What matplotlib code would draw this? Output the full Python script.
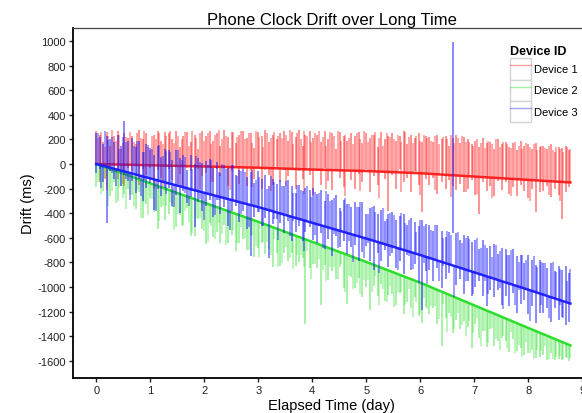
import matplotlib.pyplot as plt
from matplotlib.lines import Line2D
from matplotlib.patches import Rectangle

plt.rcParams['font.family'] = ['Liberation Sans', 'DejaVu Sans']
plt.rcParams['axes.unicode_minus'] = False

# sample times (day) of the outlier readings, first batch
days = [0.00, 0.06, 0.13, 0.19, 0.26, 0.33, 0.40, 0.46, 0.52, 0.59,
        0.66, 0.73, 0.80, 0.86, 0.93, 1.00, 1.07, 1.14, 1.20, 1.27,
        1.34, 1.41, 1.48, 1.55, 1.61, 1.68, 1.75, 1.82, 1.89, 1.96,
        2.03, 2.10, 2.17, 2.24, 2.30, 2.37, 2.44, 2.51, 2.58, 2.65,
        2.72, 2.79, 2.86, 2.92, 2.99, 3.06, 3.13, 3.20, 3.27, 3.34,
        3.41, 3.48, 3.55, 3.62, 3.69, 3.76, 3.83, 3.87, 3.95, 4.02,
        4.09, 4.16, 4.23, 4.30, 4.37, 4.44, 4.51, 4.58, 4.65, 4.72,
        4.79, 4.86, 4.93, 5.00, 5.07, 5.14, 5.21, 5.28, 5.35, 5.41,
        5.48, 5.55, 5.62, 5.69, 5.76, 5.83, 5.90, 5.97, 6.03, 6.10,
        6.17, 6.24, 6.31, 6.40, 6.47, 6.54, 6.60, 6.67, 6.74, 6.81,
        6.88, 6.95, 7.02, 7.09, 7.16, 7.23, 7.30, 7.37, 7.44, 7.51,
        7.58, 7.65, 7.72, 7.79, 7.86, 7.93, 8.00, 8.07, 8.14, 8.21,
        8.28, 8.35, 8.42, 8.49, 8.56, 8.62, 8.69, 8.75]
# second batch, in between
days_b = [0.03, 0.09, 0.16, 0.22, 0.29, 0.36, 0.43, 0.49, 0.55, 0.62,
          0.69, 0.76, 0.83, 0.89, 0.96, 1.03, 1.10, 1.17, 1.23, 1.30,
          1.37, 1.44, 1.51, 1.58, 1.64, 1.71, 1.78, 1.85, 1.92, 1.99,
          2.06, 2.13, 2.20, 2.27, 2.33, 2.40, 2.47, 2.54, 2.61, 2.68,
          2.75, 2.82, 2.89, 2.95, 3.02, 3.09, 3.16, 3.23, 3.30, 3.37,
          3.44, 3.51, 3.58, 3.65, 3.72, 3.79, 3.85, 3.91, 3.98, 4.05,
          4.12, 4.19, 4.26, 4.33, 4.40, 4.47, 4.54, 4.61, 4.68, 4.75,
          4.82, 4.89, 4.96, 5.03, 5.10, 5.17, 5.24, 5.31, 5.38, 5.44,
          5.51, 5.58, 5.65, 5.72, 5.79, 5.86, 5.93, 6.00, 6.06, 6.13,
          6.20, 6.27, 6.35, 6.43, 6.50, 6.57, 6.63, 6.70, 6.77, 6.84,
          6.91, 6.98, 7.05, 7.12, 7.19, 7.26, 7.33, 7.40, 7.47, 7.54,
          7.61, 7.68, 7.75, 7.82, 7.89, 7.96, 8.03, 8.10, 8.17, 8.24,
          8.31, 8.38, 8.45, 8.52, 8.59, 8.65, 8.72, 8.78]

# Device 1 (red)
dev1_hi = [270, 240, 180, 260, 150, 230, 270, 120, 250, 210,
           230, 160, 280, 200, 250, 110, 240, 270, 190, 260,
           250, 200, 270, 140, 230, 260, 180, 240, 120, 270,
           230, 270, 190, 250, 150, 280, 220, 260, 170, 240,
           270, 210, 250, 130, 260, 230, 280, 180, 240, 200,
           250, 270, 190, 260, 220, 280, 150, 240, 270, 210,
           240, 180, 270, 200, 250, 120, 260, 230, 190, 250,
           230, 260, 170, 250, 210, 240, 140, 260, 200, 230,
           250, 190, 230, 270, 160, 240, 210, 250, 180, 230,
           220, 180, 240, 200, 230, 150, 210, 240, 170, 220,
           200, 160, 190, 140, 210, 170, 180, 120, 200, 160,
           180, 140, 170, 110, 190, 150, 160, 120, 170, 140,
           150, 120, 160, 100, 140, 130, 150, 110]
dev1_lo = [-20, -150, -30, -210, -60, -20, -120, -40, -180, -30,
           -60, -20, -170, -40, -90, -30, -200, -50, -110, -20,
           -40, -130, -20, -80, -190, -30, -60, -230, -40, -100,
           -70, -30, -150, -40, -100, -25, -180, -60, -35, -160,
           -40, -180, -60, -120, -30, -200, -50, -90, -170, -40,
           -150, -50, -100, -30, -200, -60, -120, -40, -90, -250,
           -60, -170, -30, -140, -210, -50, -110, -190, -40, -130,
           -200, -80, -150, -40, -230, -100, -170, -60, -120, -380,
           -90, -200, -40, -150, -110, -230, -60, -170, -390, -120,
           -170, -110, -240, -150, -200, -130, -180, -210, -160, -230,
           -200, -130, -250, -410, -150, -220, -180, -260, -140, -210,
           -150, -240, -190, -260, -170, -220, -280, -200, -390, -230,
           -220, -180, -270, -200, -250, -450, -230, -190]
dev1_hi_b = [210, 260, 140, 230, 280, 190, 240, 170, 220, 260,
             180, 250, 210, 270, 140, 230, 200, 250, 160, 230,
             270, 170, 230, 200, 260, 150, 270, 210, 250, 190,
             250, 160, 240, 280, 200, 230, 130, 260, 220, 270,
             200, 250, 170, 270, 220, 140, 250, 210, 260, 230,
             210, 240, 280, 160, 250, 200, 270, 230, 180, 250,
             270, 220, 150, 260, 230, 270, 190, 240, 210, 160,
             250, 200, 270, 180, 240, 260, 210, 150, 250, 220,
             200, 240, 180, 260, 220, 170, 230, 190, 240, 210,
             190, 230, 160, 220, 200, 240, 170, 210, 230, 180,
             180, 150, 200, 170, 130, 190, 160, 200, 140, 180,
             160, 130, 180, 150, 120, 170, 140, 160, 110, 150,
             130, 150, 110, 140, 120, 100, 140, 120]
dev1_lo_b = [0, -1, -120, -2, -3, -4, -4, -160, -6, -6,
             -7, -8, -8, -140, -10, -10, -11, -12, -190, -13,
             -14, -14, -160, -16, -16, -17, -18, -19, -200, -20,
             -21, -150, -22, -23, -23, -24, -210, -25, -26, -27,
             -28, -28, -190, -30, -30, -31, -32, -220, -34, -35,
             -36, -180, -38, -39, -40, -40, -240, -42, -43, -44,
             -45, -46, -200, -48, -49, -50, -51, -260, -53, -54,
             -55, -220, -57, -57, -58, -59, -280, -61, -62, -63,
             -64, -65, -230, -67, -69, -70, -71, -250, -74, -75,
             -80, -210, -84, -86, -88, -270, -92, -94, -96, -230,
             -100, -101, -240, -105, -107, -109, -280, -113, -115, -116,
             -118, -260, -122, -124, -126, -128, -300, -132, -134, -136,
             -138, -250, -142, -144, -300, -148, -150, -151]

# Device 2 (green)
dev2_hi = [0, -9, -20, -30, -41, -52, -63, -72, -82, -93,
           -104, -115, -126, -135, -146, -157, -168, -179, -188, -199,
           -210, -221, -232, -243, -253, -264, -275, -286, -297, -308,
           -319, -330, -341, -352, -361, -372, -383, -394, -405, -416,
           -427, -438, -449, -458, -469, -480, -491, -502, -514, -525,
           -536, -547, -559, -570, -581, -593, -604, -611, -624, -635,
           -646, -658, -669, -681, -692, -703, -715, -726, -737, -749,
           -762, -773, -785, -796, -807, -819, -830, -842, -853, -863,
           -874, -886, -897, -908, -920, -931, -943, -954, -964, -976,
           -996, -1009, -1022, -1039, -1051, -1064, -1075, -1088, -1101, -1114,
           -1127, -1140, -1153, -1166, -1178, -1191, -1204, -1217, -1230, -1243,
           -1256, -1268, -1281, -1294, -1307, -1320, -1333, -1346, -1359, -1371,
           -1384, -1397, -1410, -1423, -1436, -1447, -1460, -1471]
dev2_lo = [-190, -130, -220, -100, -260, -150, -300, -180, -240, -200,
           -254, -365, -226, -435, -326, -277, -388, -529, -348, -459,
           -410, -351, -512, -413, -493, -354, -585, -586, -447, -528,
           -649, -480, -591, -552, -641, -492, -643, -574, -705, -646,
           -607, -698, -589, -758, -679, -640, -731, -692, -834, -725,
           -826, -727, -789, -720, -831, -793, -764, -1301, -844, -815,
           -846, -1148, -819, -941, -872, -933, -835, -1006, -1137, -919,
           -1012, -923, -1085, -996, -1187, -989, -1070, -972, -1113, -1063,
           -1054, -1146, -1047, -1218, -1120, -1171, -1083, -1234, -1294, -1166,
           -1216, -1169, -1302, -1479, -1251, -1214, -1375, -1268, -1341, -1274,
           -1327, -1500, -1303, -1416, -1358, -1491, -1344, -1477, -1440, -1413,
           -1436, -1528, -1421, -1524, -1497, -1550, -1533, -1516, -1579, -1571,
           -1554, -1597, -1540, -1593, -1586, -1597, -1570, -1601]
dev2_hi_b = [-5, -14, -25, -35, -46, -57, -68, -77, -87, -98,
             -109, -120, -131, -140, -151, -162, -173, -184, -193, -204,
             -215, -226, -237, -248, -258, -269, -280, -291, -302, -313,
             -324, -335, -346, -357, -366, -377, -388, -399, -410, -421,
             -432, -443, -454, -463, -474, -485, -496, -507, -519, -530,
             -541, -552, -564, -575, -586, -598, -608, -618, -629, -640,
             -651, -663, -674, -686, -697, -708, -720, -731, -742, -754,
             -767, -778, -790, -801, -812, -824, -835, -847, -858, -868,
             -880, -892, -903, -914, -926, -937, -949, -960, -970, -982,
             -1002, -1015, -1030, -1045, -1058, -1070, -1081, -1094, -1107, -1120,
             -1133, -1146, -1159, -1172, -1184, -1197, -1210, -1223, -1236, -1249,
             -1262, -1274, -1287, -1300, -1313, -1326, -1339, -1352, -1365, -1377,
             -1390, -1403, -1416, -1429, -1442, -1452, -1466, -1476]
dev2_lo_b = [-145, -244, -115, -345, -216, -317, -188, -277, -367, -248,
             -339, -210, -441, -310, -411, -282, -373, -464, -343, -344,
             -305, -536, -407, -508, -378, -469, -560, -441, -442, -543,
             -634, -505, -606, -477, -566, -657, -538, -539, -640, -511,
             -602, -703, -574, -663, -754, -635, -636, -737, -609, -840,
             -801, -672, -764, -855, -736, -738, -838, -708, -939, -810,
             -771, -863, -954, -836, -837, -938, -810, -1041, -912, -1014,
             -967, -1058, -940, -941, -1042, -914, -1145, -1017, -1118, -988,
             -1160, -1042, -1043, -1144, -1016, -1247, -1119, -1220, -1090, -1182,
             -1152, -1155, -1260, -1135, -1368, -1240, -1341, -1214, -1307, -1400,
             -1273, -1376, -1249, -1482, -1354, -1457, -1330, -1423, -1516, -1399,
             -1492, -1364, -1537, -1470, -1573, -1446, -1539, -1582, -1515, -1517,
             -1480, -1583, -1586, -1569, -1562, -1582, -1576, -1576]

# Device 3 (blue)
dev3_hi = [250, 220, 160, 230, 200, 180, 240, 150, 350, 190,
           213, 135, 186, 99, 161, 133, 75, 147, 60, 121,
           113, 35, 117, 49, 72, -47, 75, -3, 49, 11,
           22, 44, -34, 18, -69, -7, -35, -4, -92, -50,
           -38, -106, -65, -152, -60, -118, -87, -176, -125, -164,
           -133, -182, -131, -180, -239, -168, -217, -192, -212, -191,
           -240, -209, -298, -247, -296, -255, -354, -293, -322, -351,
           -309, -348, -307, -406, -355, -344, -403, -372, -461, -408,
           -387, -456, -425, -404, -493, -442, -471, -500, -458, -488,
           -494, -544, -494, -546, -596, -556, 990, -564, -614, -574,
           -584, -634, -614, -694, -614, -683, -663, -653, -733, -683,
           -693, -743, -692, -752, -742, -802, -742, -782, -822, -782,
           -802, -842, -802, -872, -832, -860, -830, -888]
dev3_lo = [-70, -40, -150, -480, -60, -120, -50, -180, -90, -140,
           -137, -235, -124, -301, -199, -157, -375, -203, -260, -199,
           -197, -345, -253, -401, -218, -317, -265, -513, -311, -379,
           -338, -296, -434, -292, -409, -347, -505, -384, -342, -470,
           -378, -526, -745, -432, -390, -508, -437, -766, -485, -444,
           -483, -562, -461, -630, -549, -508, -627, -552, -512, -621,
           -640, -559, -688, -607, -746, -585, -674, -623, -732, -671,
           -659, -788, -717, -666, -785, -864, -723, -792, -701, -838,
           -727, -846, -785, -894, -743, -862, -811, -970, -1188, -868,
           -864, -954, -844, -1006, -936, -886, -560, -984, -934, -1054,
           -954, -1074, -1004, -954, -1074, -1153, -1023, -1083, -1023, -1143,
           -1073, -1153, -1052, -1212, -1142, -1102, -1222, -1152, -1292, -1212,
           -1212, -1172, -1282, -1172, -1272, -1240, -1310, -1288]
dev3_hi_b = [256, -11, 271, 194, 216, -42, 120, 223, 176, -73,
             149, 191, -97, 96, 158, 119, -129, 153, 66, 108,
             100, -168, 113, 35, 58, -200, -38, 64, 15, -233,
             -11, 31, -257, -66, -3, -41, -289, -7, -95, -54,
             -62, -330, -49, -126, -104, -362, -201, -100, -149, -398,
             -177, -136, -425, -234, -173, -212, -459, -177, -266, -225,
             -234, -503, -222, -301, -280, -539, -378, -277, -326, -575,
             -353, -312, -601, -410, -349, -388, -637, -356, -445, -402,
             -411, -680, -399, -478, -457, -716, -555, -454, -502, -752,
             -539, -499, -790, -601, -541, -581, -829, -549, -639, -599,
             -609, -879, -599, -679, -659, -918, -758, -658, -708, -958,
             -738, -698, -987, -797, -737, -777, -1027, -747, -837, -797,
             -806, -1076, -796, -876, -856, -1114, -954, -852]
dev3_lo_b = [-4, -191, -19, -26, -74, -182, -50, -57, -124, -293,
             -81, -89, -257, -134, -112, -121, -379, -137, -144, -242,
             -160, -348, -177, -185, -232, -340, -208, -216, -285, -453,
             -241, -249, -417, -296, -273, -281, -539, -297, -305, -404,
             -322, -510, -339, -346, -394, -502, -371, -380, -449, -618,
             -407, -416, -585, -464, -443, -452, -709, -467, -476, -575,
             -494, -683, -512, -521, -570, -679, -548, -557, -626, -795,
             -583, -592, -761, -640, -619, -628, -887, -646, -655, -752,
             -671, -860, -689, -698, -747, -856, -725, -734, -802, -972,
             -769, -779, -950, -831, -811, -821, -1079, -839, -849, -949,
             -869, -1059, -889, -899, -949, -1058, -928, -938, -1008, -1178,
             -968, -978, -1147, -1027, -1007, -1017, -1277, -1037, -1047, -1147,
             -1066, -1256, -1086, -1096, -1146, -1254, -1124, -1132]

# slow drift of each device
base_days = [0, 1, 2, 3, 4, 5, 6, 7, 8, 8.78]
dev1_base = [0, -10, -20, -30, -45, -57, -75, -102, -129, -150]
dev2_base = [0, -157, -314, -470, -633, -796, -965, -1149, -1333, -1475]
dev3_base = [0, -117, -234, -350, -478, -606, -740, -881, -1022, -1135]

labels = ['Device 1', 'Device 2', 'Device 3']
colors = ['#ff1a1a', '#22dd22', '#1a1aff']
spike_alpha = [0.6, 0.5, 0.65]

fig = plt.figure(figsize=(5.82, 4.14), dpi=100)
ax = fig.add_axes([73 / 582, 35 / 414, 517 / 582, 350 / 414])

series = [(dev1_lo, dev1_hi, dev1_lo_b, dev1_hi_b, dev1_base),
          (dev2_lo, dev2_hi, dev2_lo_b, dev2_hi_b, dev2_base),
          (dev3_lo, dev3_hi, dev3_lo_b, dev3_hi_b, dev3_base)]
for (lo, hi, lo_b, hi_b, base), c, a in zip(series, colors, spike_alpha):
    ax.vlines(days, lo, hi, color=c, lw=1.1, alpha=a)
    ax.vlines(days_b, lo_b, hi_b, color=c, lw=1.1, alpha=a - 0.12)
    ax.plot(base_days, base, color=c, lw=1.8, alpha=0.95)

ax.set_xlim(-0.431, 9.143)
ax.set_ylim(-1740, 1106)
ax.set_xticks([0, 1, 2, 3, 4, 5, 6, 7, 8, 9])
ax.set_yticks([-1600, -1400, -1200, -1000, -800, -600, -400, -200,
               0, 200, 400, 600, 800, 1000])
ax.tick_params(labelsize=8, length=3, width=1, colors='#222222', pad=2)

for s in ['left', 'bottom']:
    ax.spines[s].set_linewidth(1.3)
    ax.spines[s].set_color('black')
ax.spines['top'].set_linewidth(0.9)
ax.spines['top'].set_color('#444444')
ax.spines['right'].set_visible(False)

ax.set_title('Phone Clock Drift over Long Time', fontsize=12, pad=3)
ax.set_xlabel('Elapsed Time (day)', fontsize=10.5, labelpad=2)
ax.set_ylabel('Drift (ms)', fontsize=10.5, labelpad=2)

handles = []
for c in colors:
    box = Rectangle((0, 0), 1, 1, facecolor='white', edgecolor='#d4d4d4', lw=1)
    ln = Line2D([], [], color=c, alpha=0.4, lw=1)
    handles.append((box, ln))
leg = ax.legend(handles, labels, title='Device ID', loc='upper left',
                bbox_to_anchor=(510 / 582, 1 - 46 / 414),
                bbox_transform=fig.transFigure, frameon=False,
                fontsize=8, handlelength=1.9, handleheight=2.55,
                labelspacing=0, handletextpad=0.3, borderpad=0,
                borderaxespad=0, alignment='left',
                title_fontproperties={'weight': 'bold', 'size': 9})
leg._legend_box.sep = 1

fig.savefig('out.png', dpi=100)
